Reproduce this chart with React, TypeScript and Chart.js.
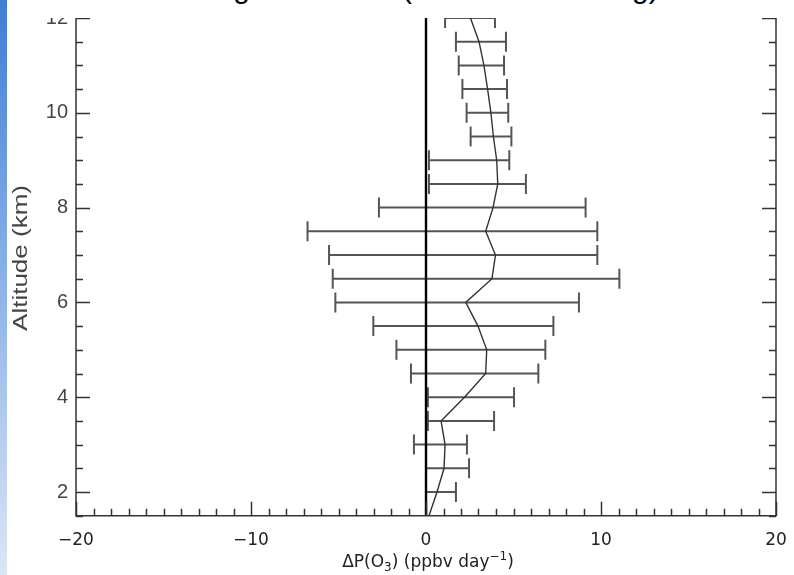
import { useEffect, useRef } from "react";
import { Chart, registerables } from "chart.js";

Chart.register(...registerables);

// ---- data ----
const ALTITUDES = [12, 11.5, 11, 10.5, 10, 9.5, 9, 8.5, 8, 7.5, 7, 6.5, 6, 5.5, 5, 4.5, 4, 3.5, 3, 2.5, 2];
const MEAN_DP = [2.54, 3.03, 3.31, 3.52, 3.71, 3.85, 4.04, 4.1, 3.83, 3.41, 3.97, 3.77, 2.27, 2.97, 3.47, 3.41, 2.2, 0.86, 1.09, 1.03, 0.63];
const LOW_DP = [1.09, 1.71, 1.87, 2.08, 2.32, 2.55, 0.17, 0.17, -2.69, -6.77, -5.54, -5.33, -5.18, -3.01, -1.69, -0.86, 0.11, 0.11, -0.69, 0.0, 0.0];
const HIGH_DP = [3.94, 4.57, 4.46, 4.63, 4.7, 4.88, 4.76, 5.71, 9.12, 9.79, 9.79, 11.05, 8.74, 7.28, 6.82, 6.42, 5.03, 3.89, 2.34, 2.46, 1.71];
const SURFACE_ALT = 1.5;
const SURFACE_DP = 0.17;

const X_TICK_VALUES = [-20, -10, 0, 10, 20];
const X_TICK_LABELS = ["\u221220", "\u221210", "0", "10", "20"];
const Y_TICK_VALUES = [2, 4, 6, 8, 10, 12];
const Y_TICK_LABELS = ["2", "4", "6", "8", "10", "12"];

const X_MIN = -20;
const X_MAX = 20;
const X_MINOR = 1;
const Y_MIN = 1.5;
const Y_MAX = 12.5;
const Y_MINOR = 0.5;

const TITLE_LEFT = "Change in Ozone";
const TITLE_RIGHT = "(convective mixing)";

// ---- layout ----
const PAGE_W = 794;
const PAGE_H = 575;
const CLIP_TOP = 18;
const CANVAS_SHIFT = 22; // canvas top sits this far above the page top
const CANVAS_H = PAGE_H + CANVAS_SHIFT;

const axesPlugin = {
  id: "idlAxes",
  beforeDatasetsDraw(chart: any) {
    const { ctx, scales } = chart;
    const x = scales.x;
    const y = scales.y;
    ctx.save();
    ctx.strokeStyle = "#555";
    ctx.lineWidth = 2;
    const capH = 10;
    for (let i = 0; i < ALTITUDES.length; i++) {
      const yp = y.getPixelForValue(ALTITUDES[i]);
      const xl = x.getPixelForValue(LOW_DP[i]);
      const xh = x.getPixelForValue(HIGH_DP[i]);
      ctx.beginPath();
      ctx.moveTo(xl, yp);
      ctx.lineTo(xh, yp);
      ctx.moveTo(xl, yp - capH);
      ctx.lineTo(xl, yp + capH);
      ctx.moveTo(xh, yp - capH);
      ctx.lineTo(xh, yp + capH);
      ctx.stroke();
    }
    ctx.restore();
  },
  afterDraw(chart: any) {
    const { ctx, chartArea, scales } = chart;
    const { left, right, top, bottom } = chartArea;
    const x = scales.x;
    const y = scales.y;
    ctx.save();
    ctx.strokeStyle = "#333";
    ctx.lineWidth = 1.5;
    ctx.beginPath();
    ctx.rect(left, top, right - left, bottom - top);
    ctx.stroke();

    // y ticks (inward, both sides)
    ctx.beginPath();
    for (let v = Y_MIN; v <= Y_MAX + 1e-9; v += Y_MINOR) {
      const yp = Math.round(y.getPixelForValue(v)) + 0.5;
      const major = Math.abs(v / 2 - Math.round(v / 2)) < 1e-6;
      const len = major ? 14 : 7;
      ctx.moveTo(left, yp);
      ctx.lineTo(left + len, yp);
      ctx.moveTo(right, yp);
      ctx.lineTo(right - len, yp);
    }
    // x ticks
    for (let v = X_MIN; v <= X_MAX + 1e-9; v += X_MINOR) {
      const xp = Math.round(x.getPixelForValue(v)) + 0.5;
      const major = Math.abs(v / 10 - Math.round(v / 10)) < 1e-6;
      const len = major ? 14 : 7;
      ctx.moveTo(xp, bottom);
      ctx.lineTo(xp, bottom - len);
      ctx.moveTo(xp, top);
      ctx.lineTo(xp, top + len);
    }
    ctx.stroke();

    // x tick labels
    ctx.fillStyle = "#222";
    ctx.font = "17px 'DejaVu Sans'";
    ctx.textAlign = "center";
    ctx.textBaseline = "middle";
    X_TICK_VALUES.forEach((v, i) => {
      ctx.fillText(X_TICK_LABELS[i], x.getPixelForValue(v), 541 + CANVAS_SHIFT);
    });

    // y tick labels
    ctx.fillStyle = "#444";
    ctx.font = "20px 'Liberation Sans'";
    ctx.textAlign = "right";
    Y_TICK_VALUES.forEach((v, i) => {
      ctx.fillText(Y_TICK_LABELS[i], 68, y.getPixelForValue(v));
    });

    // y title (stretched along its length like the reference)
    ctx.save();
    ctx.translate(21, 258 + CANVAS_SHIFT);
    ctx.rotate(-Math.PI / 2);
    ctx.scale(1.3, 1);
    ctx.textAlign = "center";
    ctx.textBaseline = "middle";
    ctx.font = "20px 'Liberation Sans'";
    ctx.fillText("Altitude (km)", 0, 0);
    ctx.restore();

    // x title with sub/superscript
    const pieces = [
      { t: "\u0394P(O", s: 17, dy: 0 },
      { t: "3", s: 12, dy: 5 },
      { t: ") (ppbv day", s: 17, dy: 0 },
      { t: "\u22121", s: 12, dy: -6 },
      { t: ")", s: 17, dy: 0 },
    ];
    ctx.fillStyle = "#222";
    ctx.textAlign = "left";
    ctx.textBaseline = "middle";
    let total = 0;
    pieces.forEach((p) => {
      ctx.font = `${p.s}px 'DejaVu Sans'`;
      total += ctx.measureText(p.t).width;
    });
    let cx = x.getPixelForValue(0) + 2 - total / 2;
    const cy = 563 + CANVAS_SHIFT;
    pieces.forEach((p) => {
      ctx.font = `${p.s}px 'DejaVu Sans'`;
      ctx.fillText(p.t, cx, cy + p.dy);
      cx += ctx.measureText(p.t).width;
    });
    ctx.restore();
  },
};

export default function App() {
  const canvasRef = useRef<HTMLCanvasElement | null>(null);

  useEffect(() => {
    const canvas = canvasRef.current;
    if (!canvas) return;
    const profile = ALTITUDES.map((a, i) => ({ x: MEAN_DP[i], y: a }));
    profile.push({ x: SURFACE_DP, y: SURFACE_ALT });

    const chart = new Chart(canvas, {
      type: "scatter",
      data: {
        datasets: [
          {
            data: profile,
            showLine: true,
            borderColor: "#333",
            borderWidth: 1.4,
            pointRadius: 0,
            tension: 0,
          } as any,
          {
            data: [
              { x: 0, y: Y_MIN },
              { x: 0, y: Y_MAX },
            ],
            showLine: true,
            borderColor: "#000",
            borderWidth: 2.4,
            pointRadius: 0,
          } as any,
        ],
      },
      options: {
        animation: false,
        responsive: false,
        devicePixelRatio: 1,
        layout: {
          padding: {
            left: 76,
            right: PAGE_W - 776,
            top: CANVAS_SHIFT - 5.7,
            bottom: CANVAS_H - (515.7 + CANVAS_SHIFT),
          },
        },
        plugins: {
          legend: { display: false },
          tooltip: { enabled: false },
          title: { display: false },
        },
        scales: {
          x: { type: "linear", min: X_MIN, max: X_MAX, display: false },
          y: { type: "linear", min: Y_MIN, max: Y_MAX, display: false },
        },
      },
      plugins: [axesPlugin],
    });
    return () => chart.destroy();
  }, []);

  const titleStyle = {
    position: "absolute" as const,
    top: -27,
    font: "30px 'Liberation Sans', Arial, sans-serif",
    lineHeight: "30px",
    color: "#000",
    whiteSpace: "nowrap" as const,
  };

  return (
    <div
      style={{
        position: "fixed",
        left: 0,
        top: 0,
        width: PAGE_W,
        height: PAGE_H,
        overflow: "hidden",
        background: "#fff",
      }}
    >
      <div
        style={{
          position: "absolute",
          left: 0,
          top: 0,
          width: 7,
          height: PAGE_H,
          background: "linear-gradient(to bottom, #3f7dd6 0%, #86aee6 45%, #dbe6f6 100%)",
        }}
      />
      <div style={{ ...titleStyle, right: PAGE_W - 395 }}>{TITLE_LEFT}</div>
      <div style={{ ...titleStyle, left: 402 }}>{TITLE_RIGHT}</div>
      <div
        style={{
          position: "absolute",
          left: 0,
          top: CLIP_TOP,
          width: PAGE_W,
          height: PAGE_H - CLIP_TOP,
          overflow: "hidden",
        }}
      >
        <canvas
          ref={canvasRef}
          width={PAGE_W}
          height={CANVAS_H}
          style={{ position: "absolute", left: 0, top: -(CLIP_TOP + CANVAS_SHIFT), width: PAGE_W, height: CANVAS_H }}
        />
      </div>
    </div>
  );
}
